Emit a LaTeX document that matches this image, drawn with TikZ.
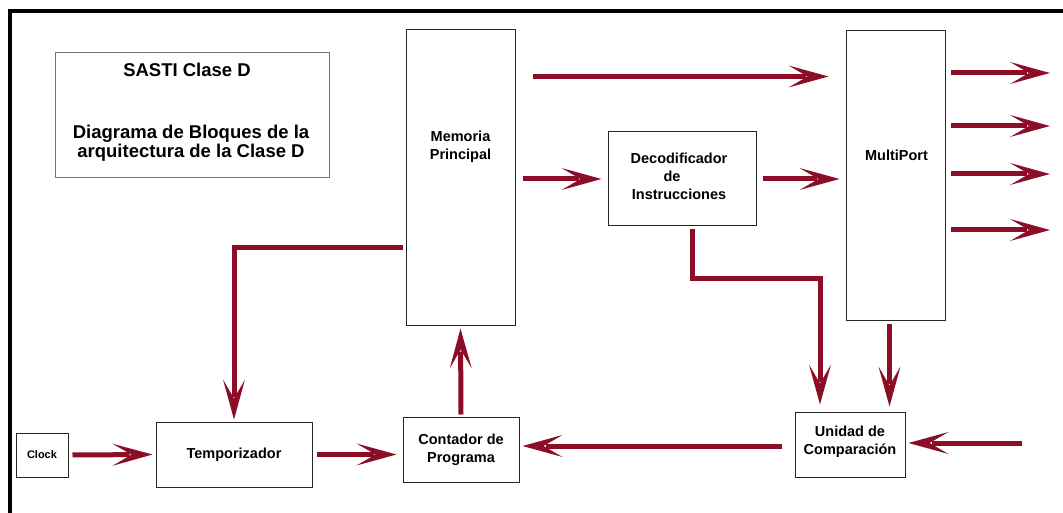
\documentclass[tikz,border=0pt]{standalone}
\usepackage{fontspec}
\setmainfont{Liberation Sans}
\usetikzlibrary{arrows.meta,calc}
\definecolor{wine}{RGB}{139,14,38}

% long swept-back arrow head used on every connector
\pgfdeclarearrow{
  name = WineBarb,
  setup code = {
    \pgfarrowssettipend{0pt}
    \pgfarrowssetbackend{-40pt}
    \pgfarrowssetlineend{-23pt}
    \pgfarrowssetvisualbackend{-21pt}
    \pgfarrowshullpoint{0pt}{0pt}
    \pgfarrowsupperhullpoint{-40pt}{11pt}
  },
  drawing code = {
    \pgfpathmoveto{\pgfpointorigin}
    \pgfpathlineto{\pgfpoint{-40pt}{11pt}}
    \pgfpathlineto{\pgfpoint{-21pt}{0pt}}
    \pgfpathlineto{\pgfpoint{-40pt}{-11pt}}
    \pgfpathclose
    \pgfusepathqfill
  }
}

\tikzset{
  blk/.style={draw=black!85, line width=1pt, fill=white, inner sep=0pt},
  lbl/.style={font=\bfseries\fontsize{14.5}{18}\selectfont, align=center, inner sep=0pt},
  ttl/.style={font=\bfseries\fontsize{18.5}{20}\selectfont, anchor=base, inner sep=0pt},
  flow/.style={color=wine, line width=5pt, -WineBarb},
}
\begin{document}
\begin{tikzpicture}[x=1pt,y=-1pt]
\useasboundingbox (0,0) rectangle (1063,513);
\fill[white] (0,0) rectangle (1063,513);
% outer frame (top and left edges)
\draw[line width=4pt] (10,513) -- (10,11) -- (1063,11);

% title block
\node[blk, draw=black!55, minimum width=274pt, minimum height=125pt] (title) at (192,115.5) {};
\node[ttl] (t1) at ($(title.north)+(-5,24)$) {SASTI Clase D};
\node[ttl] (t2) at (191,139) {Diagrama de Bloques de la};
\node[ttl] (t3) at (191,158) {arquitectura de la Clase D};

% blocks
\node[blk, minimum width=109pt, minimum height=295pt] (mem) at (460.5,177.5) {};
\node[lbl] (memt) at ($(mem.center)+(0,-31)$) {Memoria\\Principal};
\node[blk, minimum width=148pt, minimum height=94pt] (dec) at (682,179) {};
\node[lbl] (dect) at ($(dec.center)+(-3,-3)$) {Decodificador\\\hspace*{-14pt}de\\Instrucciones};
\node[blk, minimum width=99pt, minimum height=289pt] (mp) at (895.5,175.5) {};
\node[lbl] (mpt) at ($(mp.center)+(1,-20)$) {MultiPort};
\node[blk, minimum width=52pt, minimum height=44pt, font=\bfseries\fontsize{11}{13}\selectfont] (clock) at (42,455) {Clock};
\node[blk, lbl, minimum width=156pt, minimum height=65pt] (temp) at (234,454.5) {Temporizador};
\node[blk, lbl, minimum width=116pt, minimum height=65pt] (cont) at (461,449.5) {Contador de\\Programa};
\node[blk, minimum width=110pt, minimum height=65pt] (unid) at (850,444.5) {};
\node[lbl] (unidt) at ($(unid.center)+(0,-3)$) {Unidad de\\Comparación};

% free ends
\coordinate (o1) at (1050,73);
\coordinate (o2) at (1050,126);
\coordinate (o3) at (1050,174);
\coordinate (o4) at (1050,230);
\coordinate (ext) at (1022,443);

% connectors
\draw[flow] ($(clock.east)+(4,0)$) -- ($(temp.west)+(-3,0)$);
\draw[flow] ($(temp.east)+(4,0)$) -- ($(cont.west |- temp.east)+(-6,0)$);
\draw[flow] ($(cont.north)+(0,-2)$) -- ($(mem.south)+(0,3)$);
\draw[flow] ($(mem.west)+(-3,70.5)$) -| ($(temp.north)+(0,-2)$);
\draw[flow] ($(mem.east |- dec.west)+(7,0)$) -- ($(dec.west)+(-6,0)$);
\draw[flow] ($(mem.north east)+(17,47)$) -- ($(mp.north west)+(-17,46)$);
\draw[flow] ($(dec.east)+(6,0)$) -- ($(mp.west |- dec.east)+(-6,0)$);
\draw[flow] ($(mp.east |- o1)+(5,0)$) -- (o1);
\draw[flow] ($(mp.east |- o2)+(5,0)$) -- (o2);
\draw[flow] ($(mp.east |- o3)+(5,0)$) -- (o3);
\draw[flow] ($(mp.east |- o4)+(5,0)$) -- (o4);
\draw[flow] ($(dec.south)+(10,3)$) -- ++(0,49) -| ($(unid.north)+(-30,-7)$);
\draw[flow] ($(mp.south)+(-6,3)$) -- ($(mp.south |- unid.north)+(-6,-5)$);
\draw[flow] (ext) -- ($(unid.east |- ext)+(3,0)$);
\draw[flow] ($(unid.west)+(-13,1.5)$) -- ($(cont.east)+(3,-3.5)$);
\end{tikzpicture}
\end{document}
